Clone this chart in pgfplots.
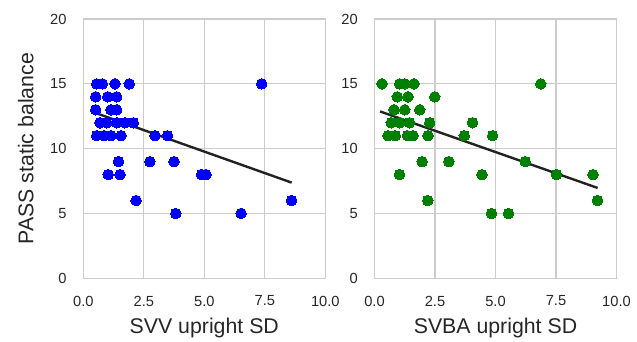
\documentclass[border=0pt]{standalone}
\usepackage{pgfplots}
\pgfplotsset{compat=1.18}
\usepackage{fontspec}
\setmainfont{Liberation Sans}
\definecolor{txt}{HTML}{262626}
\definecolor{gridc}{HTML}{CCCCCC}
\definecolor{linec}{HTML}{222222}
\definecolor{sgreen}{RGB}{0,128,0}
\pgfplotsset{
  panel/.style={
    scale only axis, width=242pt, height=259.3pt,
    xmin=0, xmax=10, ymin=0, ymax=20,
    xtick={0,2.5,5,7.5,10}, ytick={0,5,10,15,20},
    grid=major, major grid style={gridc, line width=1.1pt},
    axis line style={gridc, line width=1.4pt},
    major tick length=0pt,
    /pgf/number format/assume math mode=true,
    xticklabel={\pgfmathprintnumber[fixed, fixed zerofill, precision=1]{\tick}},
    yticklabel={\pgfmathprintnumber[fixed, precision=0]{\tick}},
    ticklabel style={font=\fontsize{14.67}{17}\selectfont, text=txt, inner sep=0pt},
    xticklabel style={anchor=center, yshift=-22.7pt},
    yticklabel style={anchor=east, xshift=-16.6pt},
    xlabel style={font=\fontsize{21.3}{25}\selectfont, text=txt, inner sep=0pt,
      at={(axis description cs:0.5,0)}, anchor=base, yshift=-54.7pt},
    ylabel style={font=\fontsize{21.3}{25}\selectfont, text=txt, inner sep=0pt,
      at={(axis description cs:-0.2066,0.5)}, anchor=base},
    clip=false,
  },
  dots/.style={only marks, mark=*, mark size=5.3pt, color=#1, mark options={draw=#1, fill=#1, line width=0pt}},
  fit/.style={linec, line width=2.4pt, no marks},
}
\begin{document}
\begin{tikzpicture}
\path[use as bounding box] (-83.3pt,-62.7pt) rectangle (553.7pt,278.3pt);
\begin{axis}[panel, at={(0,0)}, anchor=south west,
  xlabel={SVV upright SD}, ylabel={PASS static balance}]
\addplot[dots=blue] coordinates {
(0.55,15) (0.79,15) (1.31,15) (1.90,15) (7.37,15)
(0.51,14) (1.01,14) (1.38,14)
(0.51,13) (1.14,13) (1.38,13)
(0.69,12) (0.97,12) (1.38,12) (1.72,12) (2.07,12)
(0.55,11) (0.87,11) (1.14,11) (1.56,11) (2.96,11) (3.48,11)
(1.45,9) (2.75,9) (3.75,9)
(1.03,8) (1.52,8) (4.89,8) (5.07,8)
(2.18,6) (8.61,6)
(3.82,5) (6.52,5)
};
\addplot[fit] coordinates {(0.48,12.77) (8.61,7.38)};
\end{axis}
\begin{axis}[panel, at={(291.2pt,0)}, anchor=south west,
  xlabel={SVBA upright SD}]
\addplot[dots=sgreen] coordinates {
(0.31,15) (1.04,15) (1.25,15) (1.63,15) (6.87,15)
(0.94,14) (1.38,14) (2.49,14)
(0.81,13) (1.25,13) (1.87,13)
(0.69,12) (1.04,12) (1.45,12) (2.28,12) (4.05,12)
(0.56,11) (0.86,11) (1.36,11) (1.59,11) (2.21,11) (3.71,11) (4.88,11)
(1.97,9) (3.07,9) (6.23,9)
(1.03,8) (4.44,8) (7.52,8) (9.03,8)
(2.20,6) (9.22,6)
(4.84,5) (5.54,5)
};
\addplot[fit] coordinates {(0.23,12.87) (9.22,6.97)};
\end{axis}
\end{tikzpicture}
\end{document}
